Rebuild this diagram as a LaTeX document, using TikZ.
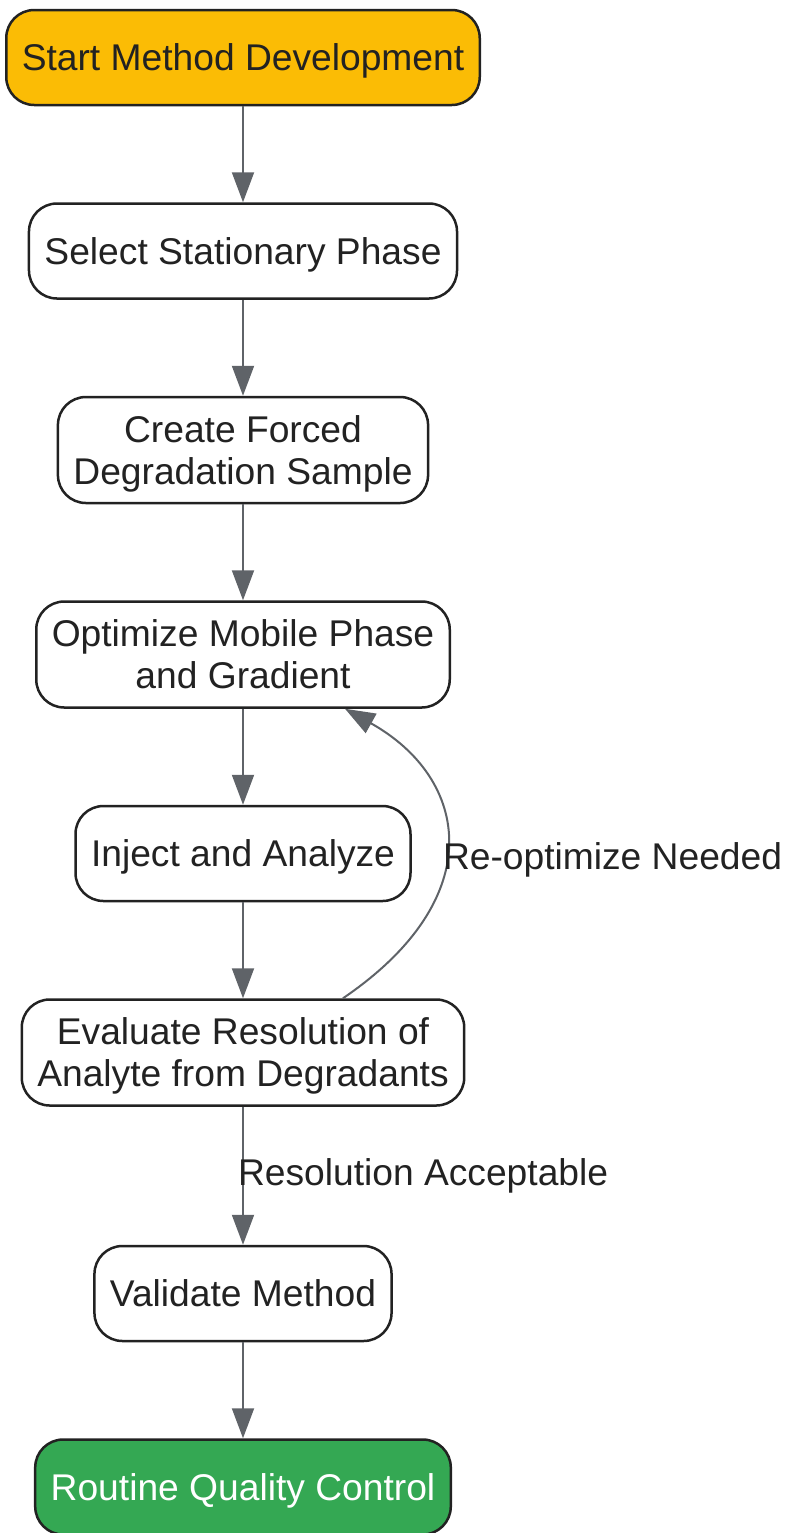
\documentclass[tikz,border=0pt]{standalone}
\usepackage{fontspec}
\setmainfont{Liberation Sans}
\usepackage{xcolor}
\usetikzlibrary{arrows.meta, positioning}
\definecolor{startorange}{HTML}{FBBC05}
\definecolor{endgreen}{HTML}{34A853}
\definecolor{edgegray}{HTML}{5F6368}
\definecolor{inkdark}{HTML}{222222}
\tikzset{
  box/.style={rectangle, draw=inkdark, line width=1.25pt, rounded corners=14pt, fill=white,
    minimum height=47.5pt, inner xsep=7.75pt, inner ysep=4pt, text depth=0pt, align=center, text=inkdark,
    font=\fontsize{18.6}{21}\selectfont},
  tallbox/.style={box, minimum height=53pt},
  arrow/.style={-{Triangle[length=15pt, width=11pt]}, line width=1pt, draw=edgegray, color=edgegray},
  edgelabel/.style={inner sep=0pt, text=inkdark, font=\fontsize{18.6}{21}\selectfont},
}

\begin{document}
\begin{tikzpicture}[x=0.5pt, y=-0.5pt, node distance=48pt]
    \useasboundingbox (0,0) rectangle (786,1533);
    \node[box, fill=startorange] (start) at (243,57.5) {Start Method Development};
    \node[box, below=of start] (select) {Select Stationary Phase};
    \node[tallbox, below=of select] (create) {Create Forced\\Degradation Sample};
    \node[tallbox, below=of create] (optimize) {Optimize Mobile Phase\\and Gradient};
    \node[box, below=of optimize] (inject) {Inject and Analyze};
    \node[tallbox, below=of inject] (evaluate) {Evaluate Resolution of\\Analyte from Degradants};
    \node[box, below=69pt of evaluate] (validate) {Validate Method};
    \node[box, fill=endgreen, text=white, below=of validate] (routine) {Routine Quality Control};
    \draw[arrow] (start) -- (select);
    \draw[arrow] (select) -- (create);
    \draw[arrow] (create) -- (optimize);
    \draw[arrow] (optimize) -- (inject);
    \draw[arrow] (inject) -- (evaluate);
    \draw[arrow] ([xshift=50pt]evaluate.north) .. controls +(147,-100) and +(125,70) .. ([xshift=51pt]optimize.south)
      node[edgelabel, pos=0.5, anchor=west, xshift=-2pt, yshift=-9pt] {Re-optimize Needed};
    \draw[arrow] (evaluate) -- (validate)
      node[edgelabel, pos=0.5, anchor=west, xshift=-3pt] {Resolution Acceptable};
    \draw[arrow] (validate) -- (routine);
  \end{tikzpicture}
\end{document}
